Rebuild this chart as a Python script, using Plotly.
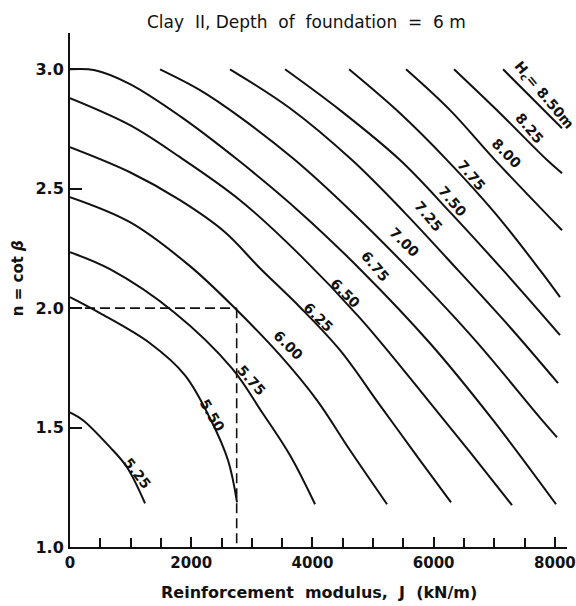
import plotly.graph_objects as go

# ---- data ----
hc_labels = ["5.25", "5.50", "5.75", "6.00", "6.25", "6.50", "6.75",
             "7.00", "7.25", "7.50", "7.75", "8.00", "8.25", "8.50"]

J_525 = [0, 215, 660, 940, 1238]
n_525 = [1.564, 1.531, 1.418, 1.334, 1.183]

J_550 = [0, 495, 1320, 1898, 2310, 2607, 2756]
n_550 = [2.046, 1.979, 1.853, 1.719, 1.539, 1.363, 1.187]

J_575 = [0, 660, 1716, 2673, 3168, 3630, 4043]
n_575 = [2.234, 2.163, 1.983, 1.748, 1.564, 1.384, 1.179]

J_600 = [0, 990, 1980, 2756, 3465, 4076, 4620, 5231]
n_600 = [2.465, 2.360, 2.176, 1.991, 1.803, 1.614, 1.405, 1.179]

J_625 = [0, 990, 1815, 2558, 3135, 3795, 4455, 5115, 5775, 6287]
n_625 = [2.674, 2.569, 2.452, 2.318, 2.167, 2.004, 1.824, 1.593, 1.363, 1.187]

J_650 = [0, 990, 1815, 2805, 3795, 4785, 5775, 6600, 7293]
n_650 = [2.879, 2.766, 2.632, 2.452, 2.222, 1.958, 1.656, 1.397, 1.175]

J_675 = [0, 413, 990, 1815, 2772, 3795, 4802, 5940, 6980, 8019]
n_675 = [3.0, 2.996, 2.938, 2.804, 2.620, 2.402, 2.159, 1.853, 1.531, 1.179]

J_700 = [1485, 2145, 2805, 3713, 4620, 5610, 6683, 7788, 8036]
n_700 = [3.0, 2.913, 2.800, 2.620, 2.410, 2.159, 1.866, 1.531, 1.459]

J_725 = [2640, 3630, 4653, 5528, 6402, 7260, 8052]
n_725 = [3.0, 2.837, 2.620, 2.398, 2.159, 1.920, 1.686]

J_750 = [3548, 4455, 5445, 6270, 7145, 8085]
n_750 = [3.0, 2.829, 2.620, 2.402, 2.159, 1.887]

J_775 = [4604, 5445, 6221, 7013, 7755, 8085]
n_775 = [3.0, 2.816, 2.620, 2.398, 2.159, 2.046]

J_800 = [5544, 6270, 7013, 8118]
n_800 = [3.0, 2.829, 2.620, 2.326]

J_825 = [6336, 7095, 7871, 8118]
n_825 = [3.0, 2.816, 2.620, 2.565]

J_850 = [7145, 7623, 8118]
n_850 = [3.0, 2.879, 2.753]

# label anchor points (J, n) and text for each contour
label_J = [1106, 2343, 2987, 3597, 4092, 4538, 5033, 5511, 5907, 6303, 6617, 7194, 7574, 7805]
label_n = [1.309, 1.552, 1.698, 1.845, 1.962, 2.063, 2.176, 2.276, 2.384, 2.447, 2.556, 2.648, 2.753, 2.891]
label_text = ["5.25", "5.50", "5.75", "6.00", "6.25", "6.50", "6.75",
              "7.00", "7.25", "7.50", "7.75", "8.00", "8.25", "H<sub>c</sub>= 8.50m"]

# dashed reading example
J_ref = 2750
n_ref = 2.0
n_ref_bottom = 0.97

x_ticks = [0, 2000, 4000, 6000, 8000]
y_ticks = [1.0, 1.5, 2.0, 2.5, 3.0]

curves_J = [J_525, J_550, J_575, J_600, J_625, J_650, J_675,
            J_700, J_725, J_750, J_775, J_800, J_825, J_850]
curves_n = [n_525, n_550, n_575, n_600, n_625, n_650, n_675,
            n_700, n_725, n_750, n_775, n_800, n_825, n_850]

FONT = "DejaVu Sans"
INK = "#111111"

fig = go.Figure()
for lab, xs, ys in zip(hc_labels, curves_J, curves_n):
    fig.add_trace(go.Scatter(x=xs, y=ys, mode="lines", name=lab,
                             line=dict(color=INK, width=2, shape="spline", smoothing=1.0),
                             hoverinfo="skip", showlegend=False))

angles = [52, 60, 48, 45, 45, 45, 50, 45, 50, 50, 50, 45, 50, 50]
annotations = []
for xv, yv, t, a in zip(label_J, label_n, label_text, angles):
    annotations.append(dict(x=xv, y=yv, xref="x", yref="y", text=t, showarrow=False,
                            textangle=a, font=dict(family=FONT, size=14, color=INK, weight="bold")))

annotations.append(dict(x=0.475, y=1, xref="paper", yref="paper", yshift=11,
                        text="Clay  II, Depth  of  foundation  =  6 m", showarrow=False,
                        xanchor="center", yanchor="middle",
                        font=dict(family=FONT, size=17, color=INK)))
annotations.append(dict(x=0.5, y=0, xref="paper", yref="paper", yshift=-45,
                        text="Reinforcement  modulus,  J  (kN/m)", showarrow=False,
                        xanchor="center", yanchor="middle",
                        font=dict(family=FONT, size=16, color=INK, weight="bold")))
annotations.append(dict(x=0, y=0.523, xref="paper", yref="paper", xshift=-52,
                        text="n = cot <i>β</i>", showarrow=False, textangle=-90,
                        xanchor="center", yanchor="middle",
                        font=dict(family=FONT, size=15, color=INK, weight="bold")))

shapes = [
    dict(type="line", xref="x", yref="y", x0=0, y0=n_ref, x1=J_ref, y1=n_ref,
         line=dict(color=INK, width=1.6, dash="10px,5px")),
    dict(type="line", xref="x", yref="y", x0=J_ref, y0=n_ref, x1=J_ref, y1=n_ref_bottom,
         line=dict(color=INK, width=1.6, dash="10px,5px")),
]

fig.update_layout(
    width=576, height=606, autosize=False,
    margin=dict(l=70, r=9, t=33, b=59, pad=0),
    paper_bgcolor="white", plot_bgcolor="white",
    showlegend=False,
    annotations=annotations, shapes=shapes,
    xaxis=dict(range=[0, 8200], showgrid=False, zeroline=False, automargin=False,
               showline=True, linecolor=INK, linewidth=2,
               tickmode="array", tickvals=x_ticks, ticktext=[str(v) for v in x_ticks],
               ticks="inside", ticklen=10, tickwidth=1.5, tickcolor=INK,
               ticklabelstandoff=1,
               minor=dict(dtick=500, tick0=0, ticks="inside", ticklen=9, tickwidth=1.5, tickcolor=INK),
               tickfont=dict(family=FONT, size=15, color=INK, weight="bold")),
    yaxis=dict(range=[1.0, 3.152], showgrid=False, zeroline=False, automargin=False,
               showline=True, linecolor=INK, linewidth=2,
               tickmode="array", tickvals=y_ticks, ticktext=["%.1f" % v for v in y_ticks],
               ticks="inside", ticklen=12, tickwidth=1.5, tickcolor=INK,
               ticklabelstandoff=1,
               tickfont=dict(family=FONT, size=16, color=INK, weight="bold")),
)

fig.write_html("out.html")
